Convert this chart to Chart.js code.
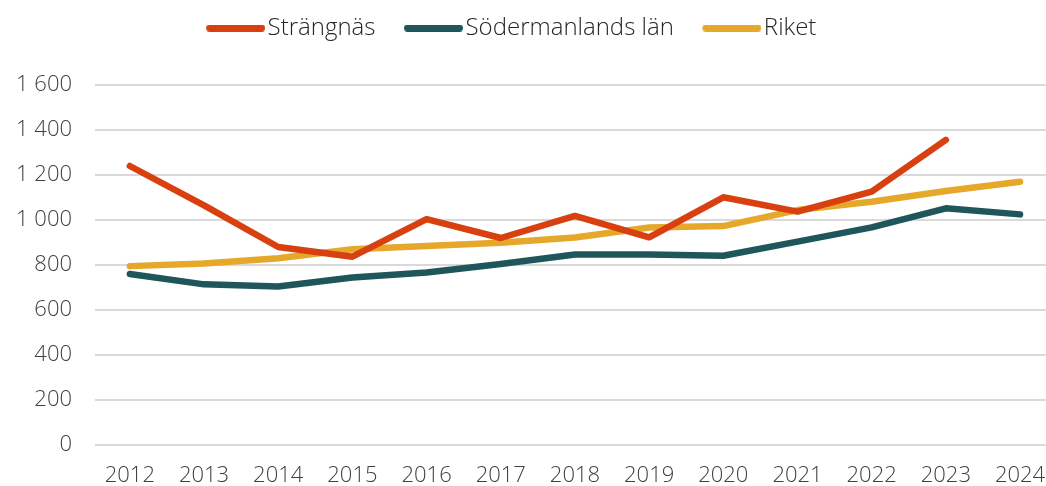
<!DOCTYPE html>
<html><head><meta charset="utf-8">
<script src="https://cdn.jsdelivr.net/npm/chart.js@4/dist/chart.umd.min.js"></script>
<style>html,body{margin:0;padding:0;background:#fff}#wrap{width:1046px;height:486px}</style>
</head><body><div id="wrap"><canvas id="c" width="1046" height="486"></canvas></div>
<script>
const years = [2012,2013,2014,2015,2016,2017,2018,2019,2020,2021,2022,2023,2024];
const strangnas = [1240,1065,880,837,1004,920,1018,923,1101,1037,1126,1356,null];
const sodermanland = [760,714,704,744,767,804,847,847,841,904,967,1052,1025];
const riket = [795,807,830,870,884,899,922,967,973,1044,1081,1129,1170];
const seriesNames = ["Strängnäs","Södermanlands län","Riket"];
const seriesColors = ["#D8410F","#1E565C","#E5A82A"];
const yTicks = [0,200,400,600,800,1000,1200,1400,1600];

const FONT = "'Open Sans', sans-serif";
const LEG_FONT = 24, LEG_PAD = 30, BOXW = 48;

// legend swatch: a thick rounded line ending just before the text
function swatch(color){
  const c = document.createElement('canvas');
  c.width = 67; c.height = 7;
  const g = c.getContext('2d');
  g.fillStyle = color;
  g.beginPath();
  g.roundRect(8, 0, 59, 7, 3.5);
  g.fill();
  return c;
}

const legendTweak = {
  id: 'legendTweak',
  beforeLayout(chart){
    const lg = chart.legend;
    if (!lg || lg._tweaked) return;
    lg._tweaked = true;
    const fit = lg.fit;
    lg.fit = function(){ fit.call(this); this.height += 21; };
    const draw = lg.draw;
    lg.draw = function(){ const c = this.ctx; c.save(); c.translate(-11, -14); draw.call(this); c.restore(); };
  }
};

const toPts = arr => arr.map((v,i)=>({x:years[i], y:v}));
const data = {
  datasets: [strangnas, sodermanland, riket].map((arr,k)=>({
    label: seriesNames[k],
    data: toPts(arr),
    borderColor: seriesColors[k],
    backgroundColor: seriesColors[k],
    borderWidth: 6.5,
    borderCapStyle: 'round',
    borderJoinStyle: 'round',
    pointRadius: 0,
    tension: 0,
    spanGaps: false
  }))
};
new Chart(document.getElementById('c'), {
  type: 'line',
  data,
  plugins: [legendTweak],
  options: {
    responsive: false,
    animation: false,
    layout: {padding: {top: 0, right: 0, left: 0, bottom: 0}},
    plugins: {
      legend: {
        position: 'top',
        labels: {
          boxWidth: BOXW, boxHeight: 7,
          usePointStyle: true, pointStyleWidth: BOXW,
          padding: LEG_PAD,
          color: '#262626',
          font: {family: FONT, size: LEG_FONT, weight: 300},
          generateLabels: chart => Chart.defaults.plugins.legend.labels.generateLabels(chart)
            .map((it,i) => Object.assign(it, {pointStyle: swatch(seriesColors[i])}))
        }
      },
      tooltip: {enabled: false}
    },
    scales: {
      x: {
        type: 'linear',
        min: 2011.53, max: 2024.35,
        grid: {display: false},
        border: {display: false},
        ticks: {stepSize: 1, includeBounds: false, autoSkip: false, maxRotation: 0,
          color: '#404040', padding: 10,
          font: {family: FONT, size: 22, weight: 300},
          callback: v => String(v)},
        afterFit: s => { s.height = 41; s.paddingLeft = 0; s.paddingRight = 0; }
      },
      y: {
        min: 0, max: 1600,
        afterBuildTicks: s => { s.ticks = yTicks.map(v=>({value:v})); },
        grid: {color: '#d9d9d9', lineWidth: 2, drawTicks: false, tickLength: 0},
        border: {display: false},
        ticks: {color: '#404040', padding: 23,
          font: {family: FONT, size: 22, weight: 300},
          callback: v => v >= 1000 ? Math.floor(v/1000) + ' ' + String(v%1000).padStart(3,'0') : String(v)},
        afterFit: s => { s.width = 95; }
      }
    }
  }
});
</script></body></html>
